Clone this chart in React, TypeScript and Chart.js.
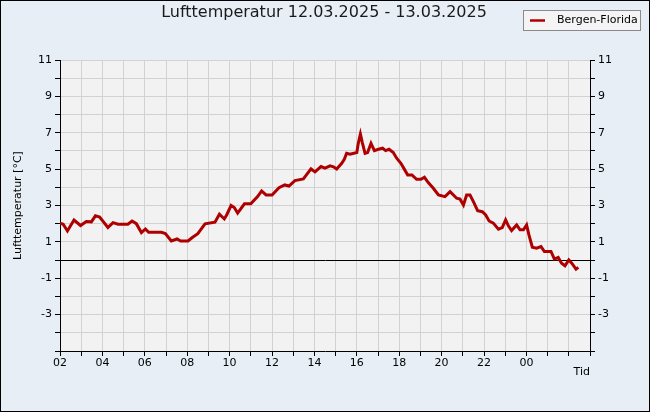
import React, { useEffect, useRef } from 'react';
import { Chart, registerables } from 'chart.js';

Chart.register(...registerables);

const TITLE = 'Lufttemperatur 12.03.2025 - 13.03.2025';
const SERIES_LABEL = 'Bergen-Florida';
const Y_TITLE = 'Lufttemperatur [°C]';
const X_TITLE = 'Tid';
const START_HOUR = 2;
const X_MAX_HOURS = 25;
const Y_MIN = -5;
const Y_MAX = 11;
const Y_TICK_LABELS = [11, 9, 7, 5, 3, 1, -1, -3];

// hours elapsed since 12.03.2025 02:00
const hours = [
  0.0, 0.15, 0.35, 0.66, 0.97, 1.24, 1.48, 1.67, 1.87, 2.26, 2.5, 2.74, 3.2, 3.4, 3.6, 3.84,
  4.03, 4.18, 4.78, 4.97, 5.25, 5.52, 5.69, 6.04, 6.24, 6.5, 6.84, 7.31, 7.52, 7.75, 7.86,
  8.07, 8.22, 8.38, 8.7, 9.0, 9.32, 9.51, 9.72, 10.0, 10.33, 10.6, 10.8, 11.08, 11.48, 11.84,
  12.03, 12.31, 12.5, 12.74, 12.9, 13.05, 13.29, 13.41, 13.52, 13.68, 14.0, 14.07, 14.17,
  14.26, 14.39, 14.51, 14.67, 14.83, 15.02, 15.22, 15.36, 15.52, 15.72, 15.88, 16.08, 16.24,
  16.4, 16.6, 16.82, 17.03, 17.19, 17.37, 17.61, 17.85, 18.16, 18.4, 18.71, 18.87, 19.03,
  19.18, 19.34, 19.5, 19.7, 19.92, 20.08, 20.24, 20.44, 20.68, 20.86, 21.02, 21.15, 21.3,
  21.54, 21.7, 21.86, 22.01, 22.12, 22.28, 22.48, 22.69, 22.85, 23.16, 23.32, 23.5, 23.66,
  23.82, 24.0, 24.14, 24.34, 24.45,
];

const temps = [
  2.03, 1.97, 1.6, 2.2, 1.9, 2.12, 2.1, 2.43, 2.36, 1.79, 2.06, 1.97, 1.97, 2.15, 2.0, 1.51,
  1.71, 1.53, 1.53, 1.46, 1.05, 1.16, 1.05, 1.05, 1.24, 1.45, 1.99, 2.08, 2.52, 2.26, 2.48,
  3.0, 2.89, 2.58, 3.09, 3.09, 3.49, 3.8, 3.58, 3.58, 3.98, 4.13, 4.07, 4.37, 4.46, 5.01,
  4.85, 5.14, 5.05, 5.18, 5.13, 5.01, 5.32, 5.54, 5.87, 5.82, 5.91, 6.42, 6.93,
  6.46, 5.87, 5.91, 6.42, 6.02, 6.09, 6.15, 6.02, 6.09, 5.91, 5.6, 5.32, 5.0,
  4.68, 4.68, 4.44, 4.44, 4.55, 4.26, 3.95, 3.58, 3.49, 3.76, 3.4, 3.35, 3.03,
  3.58, 3.58, 3.21, 2.72, 2.66, 2.48, 2.15, 2.03, 1.7, 1.79, 2.21, 1.88, 1.62,
  1.93, 1.66, 1.66, 1.93, 1.38, 0.71, 0.65, 0.74, 0.47, 0.47, 0.05, 0.14, -0.17,
  -0.32, 0.01, -0.17, -0.5, -0.4,
];

const LINE_COLOR = '#AE0000';
const FONT = '"DejaVu Sans", "Liberation Sans", sans-serif';

const framePlugin = {
  id: 'framePlugin',
  beforeDraw(chart: any) {
    const { ctx, width, height, chartArea: a } = chart;
    ctx.save();
    ctx.fillStyle = '#E7EEF6';
    ctx.fillRect(0, 0, width, height);
    ctx.fillStyle = '#F2F2F2';
    ctx.fillRect(a.left, a.top, a.right - a.left, a.bottom - a.top);
    ctx.restore();
  },
  afterDraw(chart: any) {
    const { ctx, width, height } = chart;
    ctx.save();
    ctx.strokeStyle = '#000';
    ctx.lineWidth = 1;
    ctx.strokeRect(0.5, 0.5, width - 1, height - 1);

    ctx.fillStyle = '#1a1a1a';
    ctx.font = '16px ' + FONT;
    ctx.textAlign = 'center';
    ctx.textBaseline = 'middle';
    ctx.fillText(TITLE, 324, 12.5);

    // legend box
    ctx.fillStyle = '#F4F4F4';
    ctx.fillRect(523.5, 10.5, 117, 20);
    ctx.strokeStyle = '#8A8A8A';
    ctx.strokeRect(523.5, 10.5, 117, 20);
    const ds = chart.data.datasets[0];
    ctx.strokeStyle = ds.borderColor;
    ctx.lineWidth = 2.5;
    ctx.beginPath();
    ctx.moveTo(530, 20.5);
    ctx.lineTo(545, 20.5);
    ctx.stroke();
    ctx.fillStyle = '#000';
    ctx.font = '11px ' + FONT;
    ctx.textAlign = 'left';
    ctx.fillText(ds.label, 557, 20.5);
    ctx.restore();
  },
};

const xLabel = (h: number) => {
  if (h % 2 !== 0 || h > 22) return '';
  return String((START_HOUR + h) % 24).padStart(2, '0');
};

const yLabel = (v: number) => (Y_TICK_LABELS.includes(v) ? String(v) : '');

export default function App() {
  const ref = useRef<HTMLCanvasElement | null>(null);

  useEffect(() => {
    if (!ref.current) return;
    const points = hours.map((h, i) => ({ x: h, y: temps[i] }));
    const tickFont = { family: FONT, size: 11 };
    const chart = new Chart(ref.current, {
      type: 'line',
      data: {
        datasets: [
          {
            label: SERIES_LABEL,
            data: points,
            borderColor: LINE_COLOR,
            backgroundColor: LINE_COLOR,
            borderWidth: 3,
            pointRadius: 0,
            tension: 0,
            yAxisID: 'y',
          },
        ],
      },
      options: {
        responsive: false,
        animation: false,
        layout: { padding: { top: 60, left: 0, right: 0, bottom: 0 } },
        plugins: {
          legend: { display: false },
          title: { display: false },
          tooltip: { enabled: false },
        },
        scales: {
          x: {
            type: 'linear',
            min: 0,
            max: X_MAX_HOURS,
            afterFit: (s: any) => {
              s.height = 61;
            },
            ticks: {
              stepSize: 1,
              autoSkip: false,
              maxRotation: 0,
              padding: 1,
              color: '#000',
              font: tickFont,
              callback: (v: any) => xLabel(Number(v)),
            },
            grid: {
              color: '#D2D2D2',
              tickColor: '#000',
              tickLength: 5,
              lineWidth: 1,
            },
            border: { color: '#000', width: 1 },
            title: {
              display: true,
              text: X_TITLE,
              align: 'end',
              color: '#000',
              font: tickFont,
              padding: { top: 0, bottom: 33 },
            },
          },
          y: {
            type: 'linear',
            position: 'left',
            min: Y_MIN,
            max: Y_MAX,
            afterFit: (s: any) => {
              s.width = 60;
            },
            ticks: {
              stepSize: 1,
              autoSkip: false,
              padding: 3,
              color: '#000',
              font: tickFont,
              callback: (v: any) => yLabel(Number(v)),
            },
            grid: {
              color: (c: any) => (c.tick && c.tick.value === 0 ? '#000' : '#D2D2D2'),
              tickColor: '#000',
              tickLength: 5,
              lineWidth: 1,
            },
            border: { color: '#000', width: 1 },
            title: {
              display: true,
              text: Y_TITLE,
              color: '#000',
              font: tickFont,
              padding: { top: 12, bottom: 0 },
            },
          },
          y2: {
            type: 'linear',
            position: 'right',
            min: Y_MIN,
            max: Y_MAX,
            afterFit: (s: any) => {
              s.width = 60;
            },
            ticks: {
              stepSize: 1,
              autoSkip: false,
              padding: 3,
              color: '#000',
              font: tickFont,
              callback: (v: any) => yLabel(Number(v)),
            },
            grid: {
              drawOnChartArea: false,
              tickColor: '#000',
              tickLength: 5,
            },
            border: { color: '#000', width: 1 },
          },
        },
      },
      plugins: [framePlugin],
    } as any);
    return () => chart.destroy();
  }, []);

  return (
    <div style={{ position: 'absolute', left: 0, top: 0, width: 650, height: 412 }}>
      <canvas ref={ref} width={650} height={412} style={{ display: 'block', width: 650, height: 412 }} />
    </div>
  );
}
